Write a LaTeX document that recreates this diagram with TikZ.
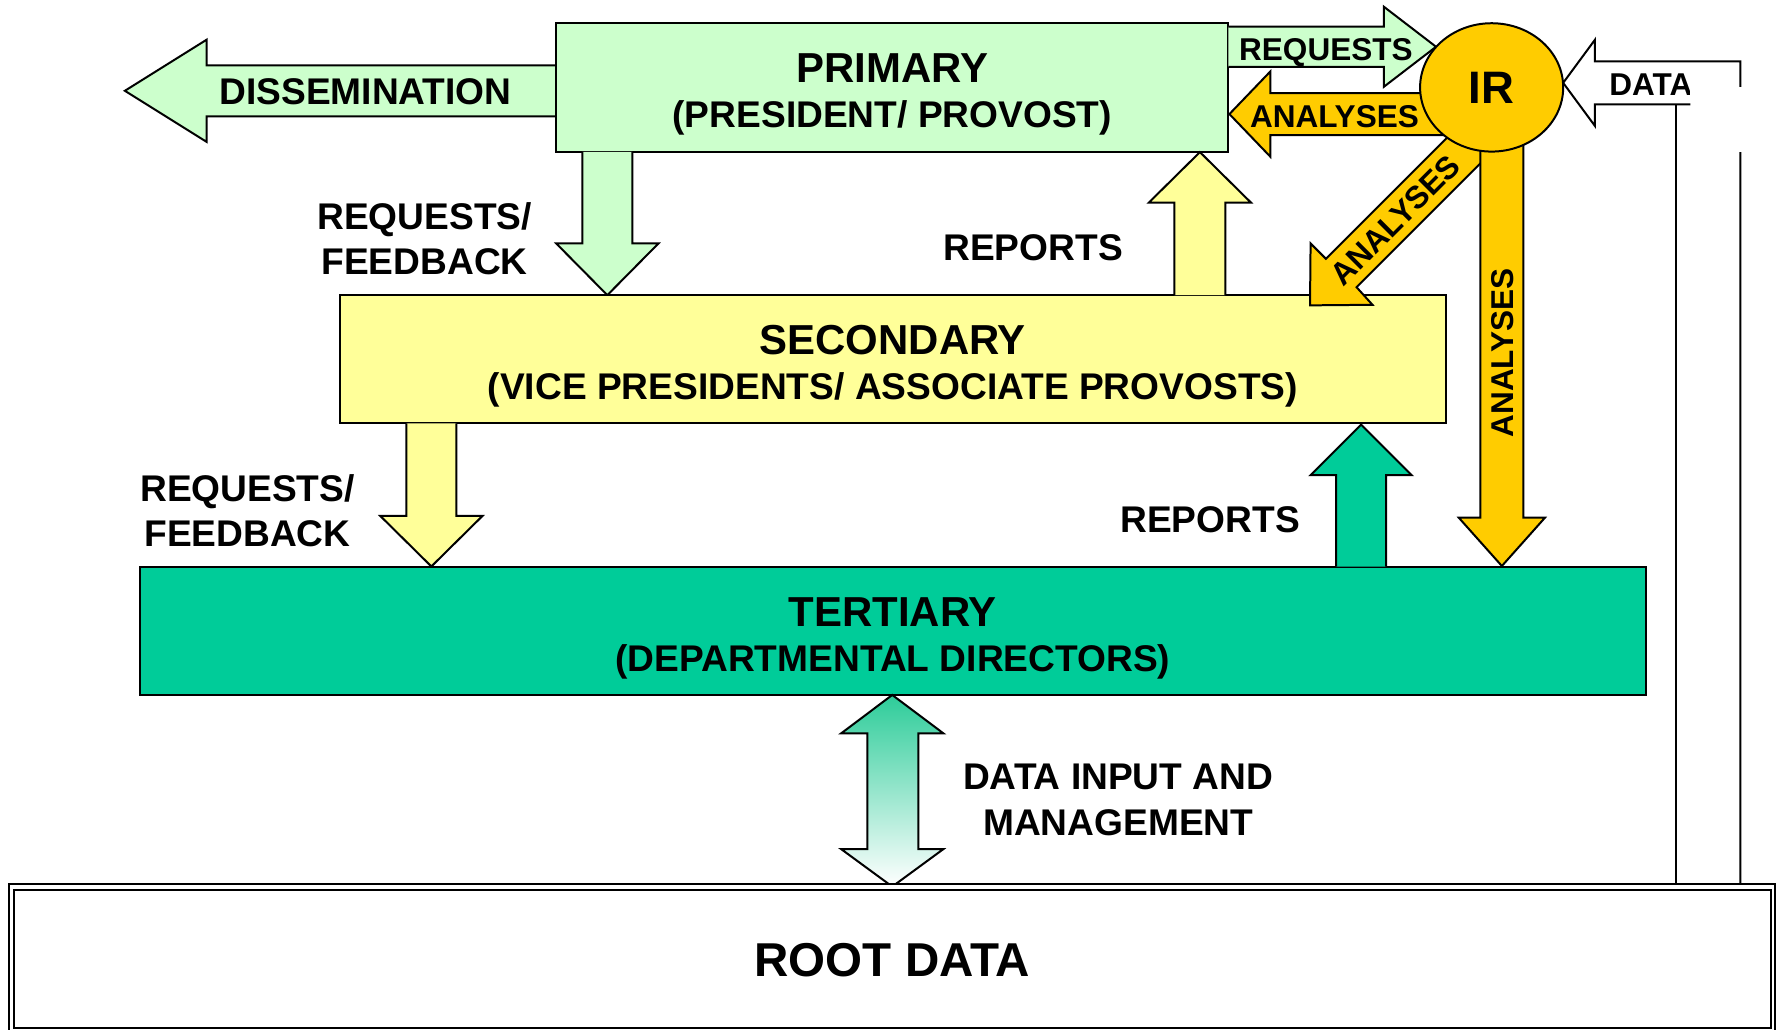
\documentclass[tikz,border=0pt]{standalone}
\usepackage{fontspec}
\setmainfont{Liberation Sans}
\usetikzlibrary{shapes.geometric}
\definecolor{pgreen}{HTML}{CCFFCC}
\definecolor{syellow}{HTML}{FFFF99}
\definecolor{tteal}{HTML}{00CC99}
\definecolor{irgold}{HTML}{FFCC00}
\definecolor{shtop}{RGB}{45,204,153}
% vertical block arrow: style, x, y tail, y head base, y tip, half shaft, half head
\newcommand\blkV[7]{%
  \fill[#1] ({#2-#6},#3) -- ({#2-#6},#4) -- ({#2-#7},#4) -- (#2,#5) -- ({#2+#7},#4) -- ({#2+#6},#4) -- ({#2+#6},#3) -- cycle;
  \draw[outl] ({#2-#6},#3) -- ({#2-#6},#4) -- ({#2-#7},#4) -- (#2,#5) -- ({#2+#7},#4) -- ({#2+#6},#4) -- ({#2+#6},#3);}
% horizontal block arrow: style, y, x tail, x head base, x tip, half shaft, half head
\newcommand\blkH[7]{%
  \fill[#1] (#3,{#2-#6}) -- (#4,{#2-#6}) -- (#4,{#2-#7}) -- (#5,#2) -- (#4,{#2+#7}) -- (#4,{#2+#6}) -- (#3,{#2+#6}) -- cycle;
  \draw[outl] (#3,{#2-#6}) -- (#4,{#2-#6}) -- (#4,{#2-#7}) -- (#5,#2) -- (#4,{#2+#7}) -- (#4,{#2+#6}) -- (#3,{#2+#6});}
\begin{document}
\begin{tikzpicture}[x=0.01cm,y=-0.01cm,
  outl/.style={draw=black,line width=0.5pt,line join=miter},
  boxst/.style={outl,rectangle,inner sep=0pt},
  ttl/.style={font=\fontsize{10.5}{12}\selectfont\bfseries,anchor=base,inner sep=0pt},
  tmain/.style={font=\fontsize{9.3}{11}\selectfont\bfseries,anchor=base,inner sep=0pt},
  tsmall/.style={font=\fontsize{7.9}{9}\selectfont\bfseries,anchor=base,inner sep=0pt},
  troot/.style={font=\fontsize{11.9}{14}\selectfont\bfseries,anchor=base,inner sep=0pt}]
\clip (0,0) rectangle (1568,907);
\fill[white] (0,0) rectangle (1568,907);

% Dissemination arrow
\blkH{pgreen}{80}{490}{182}{110}{22.5}{45}
% Primary box
\node[boxst,fill=pgreen,minimum width=5.92cm,minimum height=1.132cm] (prim) at (786,77.2) {};
% Requests arrow to IR
\blkH{pgreen}{41.2}{1082}{1219}{1265}{17.7}{35.3}
% primary -> secondary
\blkV{pgreen}{535}{133.8}{214.5}{260}{22}{45}
% Secondary box
\node[boxst,fill=syellow,minimum width=9.735cm,minimum height=1.13cm] (sec) at (786.7,316.5) {};
% reports up (yellow)
\blkV{syellow}{1057}{260}{178.5}{134}{22.5}{45}

% Diagonal analyses
\fill[irgold] (1154,269) -- (1154.5,214.5) -- (1168,228) -- (1285,111) -- (1314,134) -- (1195,253) -- (1209,268.5) -- cycle;
\draw[outl] (1285,111) -- (1168,228) -- (1154.5,214.5) -- (1154,269) -- (1209,268.5) -- (1195,253) -- (1314,134);
% Vertical analyses
\blkV{irgold}{1323}{100}{456}{498.6}{19}{38}
% Horizontal analyses
\blkH{irgold}{100.5}{1295}{1119}{1083}{18.5}{37.5}
% IR
\node[outl,ellipse,fill=irgold,minimum width=1.26cm,minimum height=1.13cm,inner sep=0pt,
  font=\fontsize{11.4}{13}\selectfont\bfseries] (ir) at (1314,77) {IR};

% DATA arrow and lines
\fill[white] (1377,73) -- (1405,35) -- (1405,54) -- (1533,54) -- (1533,92) -- (1405,92) -- (1405,111) -- cycle;
\draw[outl] (1533,779) -- (1533,54) -- (1405,54) -- (1405,35) -- (1377,73) -- (1405,111) -- (1405,92) -- (1489,92);
\draw[outl] (1476,92) -- (1476,779);
\node[tsmall,anchor=base west] (tdata) at (1417,84) {DATA};
\fill[white] (1489,57) rectangle (1530,91);
\fill[white] (1529,76.5) rectangle (1537,134);

% secondary -> tertiary (yellow)
\blkV{syellow}{380}{373}{454.5}{499}{22}{45}
% Tertiary box
\node[boxst,fill=tteal,minimum width=13.266cm,minimum height=1.131cm] (ter) at (786.7,555.75) {};
% reports up (teal)
\blkV{tteal}{1199}{499.2}{418.5}{374}{22}{44.5}

% Double arrow (gradient)
\shade[top color=shtop,bottom color=white] (786,612.2) -- (831,646) -- (809,646) -- (809,748) -- (831,748) -- (786,781) -- (741,748) -- (764,748) -- (764,646) -- (741,646) -- cycle;
\draw[outl] (786,612.2) -- (831,646) -- (809,646) -- (809,748) -- (831,748) -- (786,781) -- (741,748) -- (764,748) -- (764,646) -- (741,646) -- cycle;

% Root data double box
\draw[outl,fill=white] (8,779) rectangle (1564,920);
\node[boxst,fill=white,minimum width=15.463cm,minimum height=1.212cm] (root) at (786.35,844.8) {};

% Texts in boxes
\node[ttl] (tp1) at (786,72.6) {PRIMARY};
\node[tmain] (tp2) at (786,112.6) {(PRESIDENT/ PROVOST)};
\node[ttl] (ts1) at (786.5,312.3) {SECONDARY};
\node[tmain] (ts2) at (786.5,352.3) {(VICE PRESIDENTS/ ASSOCIATE PROVOSTS)};
\node[ttl] (tt1) at (786.5,551.5) {TERTIARY};
\node[tmain] (tt2) at (786.5,591.5) {(DEPARTMENTAL DIRECTORS)};
\node[troot] (tr) at (786,860.4) {ROOT DATA};

% Arrow labels
\node[tmain] (tdis) at (322,91.8) {DISSEMINATION};
\node[tsmall] (treq) at (1168,53.5) {REQUESTS};
\node[tsmall] (tan1) at (1175.5,112.4) {ANALYSES};
\node[tsmall,anchor=center,rotate=45] (tan2) at (1229,194) {ANALYSES};
\node[tsmall,anchor=center,rotate=90] (tan3) at (1323.5,311) {ANALYSES};

% Free labels
\node[tmain] (trf1) at (374,202.5) {REQUESTS/};
\node[tmain] (trf2) at (374,241.5) {FEEDBACK};
\node[tmain] (trp1) at (910,229.6) {REPORTS};
\node[tmain] (trf3) at (218,442) {REQUESTS/};
\node[tmain] (trf4) at (218,481.5) {FEEDBACK};
\node[tmain] (trp2) at (1066,469) {REPORTS};
\node[tmain] (tdi1) at (985,695.3) {DATA INPUT AND};
\node[tmain] (tdi2) at (985,735.6) {MANAGEMENT};
\end{tikzpicture}
\end{document}
